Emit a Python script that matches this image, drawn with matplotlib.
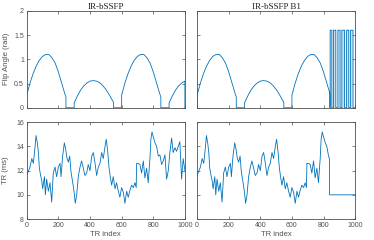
import numpy as np
import matplotlib
matplotlib.use("Agg")
import matplotlib.pyplot as plt

# --- data --------------------------------------------------------------
# flip angle humps (TR index, rad); the pattern repeats every 600 TRs
hump_a_idx = [0, 20, 40, 60, 80, 100, 120, 140, 160, 180, 200, 220, 240, 248]
hump_a_val = [0.26, 0.50, 0.70, 0.86, 0.98, 1.06, 1.10, 1.10, 1.03, 0.92, 0.74, 0.52, 0.30, 0.22]
hump_b_idx = [300, 320, 340, 360, 380, 400, 420, 440, 460, 480, 500, 520, 540, 549]
hump_b_val = [0.10, 0.24, 0.36, 0.45, 0.51, 0.55, 0.56, 0.55, 0.52, 0.46, 0.38, 0.28, 0.16, 0.11]
period = 600

# B1 variant: square pulses after TR 840
b1_cut = 840
pulse_on = [842, 863, 891, 916, 946, 971]
pulse_off = [853, 878, 905, 933, 960, 987]
pulse_level = 1.6

# repetition time (ms)
tr_idx = [0, 21, 32, 42, 53, 59, 67, 74, 80, 88, 95, 101, 112, 118, 126, 137, 147, 158,
          168, 179, 189, 200, 211, 217, 227, 238, 246, 255, 263, 272, 280, 291, 299, 307,
          316, 326, 337, 347, 358, 368, 379, 389, 400, 411, 421, 432, 442, 453, 463, 474,
          484, 495, 503, 512, 520, 528, 537, 547, 558, 568, 579, 589, 600, 611, 621, 632,
          642, 653, 663, 674, 684, 692, 695, 705, 716, 726, 737, 747, 758, 768, 779, 785,
          792, 800, 811, 821, 832, 842, 853, 863, 874, 884, 895, 905, 916, 926, 937, 947,
          958, 968, 979, 989, 1000]
tr_val = [11.6, 12.3, 13.0, 12.6, 14.0, 14.9, 14.3, 13.5, 12.2, 11.6, 11.2, 10.5, 11.5, 10.0,
          11.3, 10.3, 11.0, 9.4, 11.8, 12.3, 11.5, 12.3, 12.6, 11.5, 13.2, 14.3, 13.8, 13.0,
          12.7, 13.2, 11.9, 11.0, 10.3, 9.3, 10.0, 11.5, 12.3, 12.8, 12.2, 11.6, 11.8, 12.5,
          12.0, 13.2, 13.5, 12.6, 11.6, 12.3, 12.6, 13.5, 13.0, 14.0, 14.6, 13.6, 12.3, 11.5,
          10.8, 11.5, 10.5, 11.0, 10.3, 9.8, 10.6, 10.2, 9.3, 10.3, 9.8, 10.4, 10.8, 10.6,
          11.0, 10.6, 12.6, 12.6, 12.5, 11.8, 12.8, 11.4, 12.2, 11.0, 13.0, 14.6, 15.2, 14.8,
          14.3, 14.0, 13.2, 13.3, 12.5, 12.8, 13.3, 11.3, 12.0, 13.5, 14.7, 13.5, 13.9, 13.6,
          14.0, 14.4, 11.3, 13.0, 12.0]
tr_b1_tail_idx = [838, 838, 1000]
tr_b1_tail_val = [13.0, 10.0, 10.0]

titles = ["IR-bSSFP", "IR-bSSFP B1"]

BLUE = "#0072BD"
AX_COLOR = "#505050"
LW = 0.6


def build_flip_angle(stop):
    """Chain the humps with zero gaps, up to TR index `stop`."""
    xs, ys = [], []
    for offset in (0, period):
        for idx, val in ((hump_a_idx, hump_a_val), (hump_b_idx, hump_b_val)):
            seg = [(i + offset, v) for i, v in zip(idx, val) if i + offset <= stop]
            if not seg:
                continue
            xs += [seg[0][0]] + [s[0] for s in seg] + [seg[-1][0]]
            ys += [0.0] + [s[1] for s in seg] + [0.0]
    return np.array(xs), np.array(ys)


def style_axes(ax):
    for sp in ax.spines.values():
        sp.set_color(AX_COLOR)
        sp.set_linewidth(0.6)
    ax.tick_params(direction="in", length=2, width=0.5, colors=AX_COLOR,
                   labelsize=5, pad=2, top=True, right=True)
    ax.set_xlim(0, 1000)
    ax.set_xticks([0, 200, 400, 600, 800, 1000])


plt.rcParams["font.family"] = ["Liberation Sans", "DejaVu Sans"]

fig = plt.figure(figsize=(3.74, 2.4), dpi=100)
ax_fa = fig.add_axes([0.0714, 0.551, 0.423, 0.404])
ax_fa_b1 = fig.add_axes([0.527, 0.551, 0.4225, 0.404])
ax_tr = fig.add_axes([0.0714, 0.0875, 0.423, 0.403])
ax_tr_b1 = fig.add_axes([0.527, 0.0875, 0.4225, 0.403])

# flip angle, plain
x, y = build_flip_angle(1000)
ax_fa.plot(x, y, color=BLUE, lw=LW)

# flip angle, B1 variant with the pulse train at the end
x, y = build_flip_angle(b1_cut)
px, py = [], []
for on, off in zip(pulse_on, pulse_off):
    px += [on, on, off, off]
    py += [0.0, pulse_level, pulse_level, 0.0]
px += [1000]
py += [0.0]
ax_fa_b1.plot(np.r_[x, px], np.r_[y, py], color=BLUE, lw=LW)
for on, off in zip(pulse_on, pulse_off):
    ax_fa_b1.fill_between([on, off], 0, pulse_level, color=BLUE, alpha=0.2, lw=0)

for ax, title in zip((ax_fa, ax_fa_b1), titles):
    style_axes(ax)
    ax.set_ylim(0, 2)
    ax.set_yticks([0, 0.5, 1, 1.5, 2])
    ax.set_yticklabels(["0", "0.5", "1", "1.5", "2"])
    ax.set_xticklabels([])
    ax.set_title(title, fontsize=6.5, family=["Liberation Serif", "DejaVu Serif"],
                 pad=1.5, color="#202020")
ax_fa.set_ylabel("Flip Angle (rad)", fontsize=5.5, color=AX_COLOR, labelpad=3)
ax_fa_b1.set_yticklabels([])

# repetition time
tr_idx_arr = np.array(tr_idx)
tr_val_arr = np.array(tr_val)
ax_tr.plot(tr_idx_arr, tr_val_arr, color=BLUE, lw=LW)
keep = tr_idx_arr < tr_b1_tail_idx[0]
ax_tr_b1.plot(np.r_[tr_idx_arr[keep], tr_b1_tail_idx], np.r_[tr_val_arr[keep], tr_b1_tail_val],
              color=BLUE, lw=LW)

for ax in (ax_tr, ax_tr_b1):
    style_axes(ax)
    ax.set_ylim(8, 16)
    ax.set_yticks([8, 10, 12, 14, 16])
    ax.set_xlabel("TR index", fontsize=5.5, color=AX_COLOR, labelpad=1.5)
ax_tr.set_ylabel("TR (ms)", fontsize=5.5, color=AX_COLOR, labelpad=5)
ax_tr_b1.set_yticklabels([])

fig.savefig("out.png", dpi=100)
